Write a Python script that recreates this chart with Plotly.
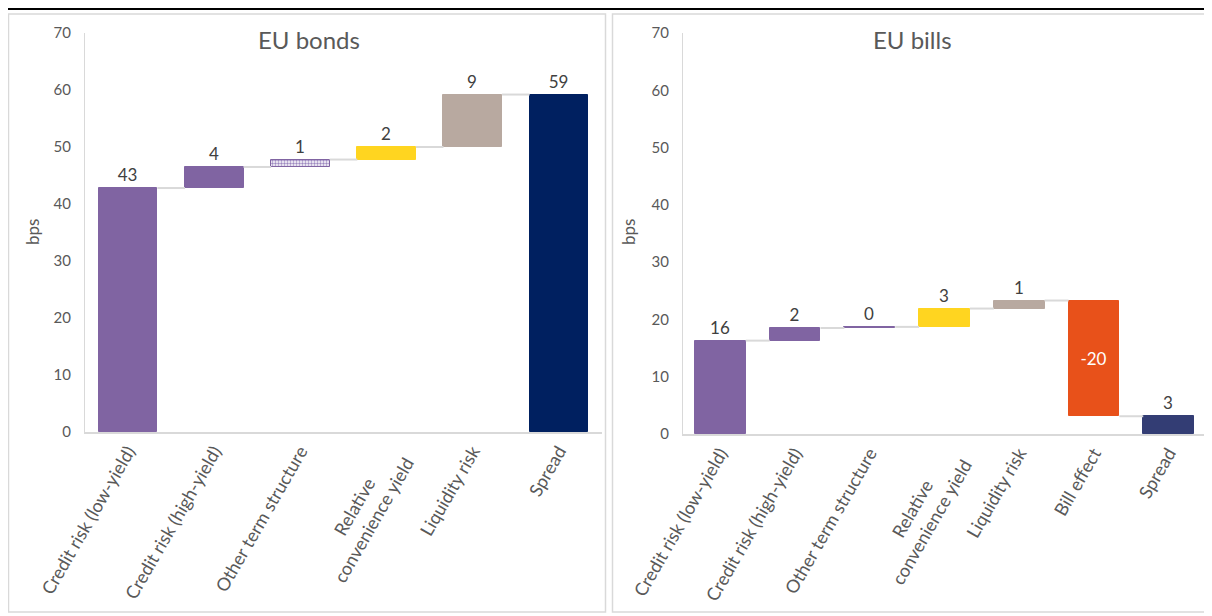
import plotly.graph_objects as go

# ---------------- data ----------------
NB = "\u00a0" * 8  # pads the short first line so it reads centred over the second
bonds_categories = ["Credit risk (low-yield)", "Credit risk (high-yield)", "Other term structure",
                    "Relative" + NB + "<br>convenience yield", "Liquidity risk", "Spread"]
bonds_values = [42.8, 3.7, 1.3, 2.2, 9.2, 59.2]
bonds_kinds = ["relative", "relative", "relative", "relative", "relative", "total"]
bonds_labels = ["43", "4", "1", "2", "9", "59"]
bonds_colors = ["#8064A2", "#8064A2", "#9C88C0", "#FFD520", "#B8A9A0", "#002060"]
bonds_patterns = ["", "", ".", "", "", ""]

bills_categories = ["Credit risk (low-yield)", "Credit risk (high-yield)", "Other term structure",
                    "Relative" + NB + "<br>convenience yield", "Liquidity risk", "Bill effect", "Spread"]
bills_values = [16.3, 2.2, 0.2, 3.2, 1.4, -20.2, 3.1]
bills_kinds = ["relative", "relative", "relative", "relative", "relative", "relative", "total"]
bills_labels = ["16", "2", "0", "3", "1", "-20", "3"]
bills_colors = ["#8064A2", "#8064A2", "#8064A2", "#FFD520", "#B8A9A0", "#E8511A", "#333D74"]
bills_patterns = ["", "", "", "", "", "", ""]

y_ticks = [0, 10, 20, 30, 40, 50, 60, 70]

FONT = "Lato"
GREY = "#595959"
BAR_W = 0.68

# the page adds an 8px body margin; figure coordinates are reference pixels minus 8
OFF = 8
W, H = 1212 - OFF, 616 - OFF


def px_x(v):
    return (v - OFF) / W


def px_y(v):
    return 1 - (v - OFF) / H


fig = go.Figure()


def add_waterfall(cats, vals, kinds, labels, colors, patterns, xa, ya):
    bases, heights, ends = [], [], []
    cum = 0.0
    for v, k in zip(vals, kinds):
        if k == "total":
            bases.append(0.0)
            heights.append(v)
            cum = v
        else:
            bases.append(cum)
            heights.append(v)
            cum = cum + v
        ends.append(cum)
    xs = list(range(len(cats)))
    textpos = ["inside" if h < 0 else "outside" for h in heights]
    textcol = ["white" if h < 0 else "#404040" for h in heights]
    line_cols = ["#8064A2" if p else c for p, c in zip(patterns, colors)]
    fig.add_trace(go.Bar(
        x=xs, y=heights, base=bases, width=BAR_W,
        marker=dict(color=colors, line=dict(color=line_cols, width=1),
                    pattern=dict(shape=patterns, fgcolor="#E4DCEE", size=3, solidity=0.5)),
        text=labels, textposition=textpos, insidetextanchor="middle",
        textfont=dict(family=FONT, size=17, color=textcol),
        outsidetextfont=dict(family=FONT, size=17, color="#404040"),
        cliponaxis=False, showlegend=False, xaxis=xa, yaxis=ya, hoverinfo="skip"))
    # connectors
    cx, cy = [], []
    for i in range(len(cats) - 1):
        cx += [i + BAR_W / 2, i + 1 - BAR_W / 2, None]
        cy += [ends[i], ends[i], None]
    fig.add_trace(go.Scatter(x=cx, y=cy, mode="lines", line=dict(color="#D9D9D9", width=2),
                             showlegend=False, xaxis=xa, yaxis=ya, hoverinfo="skip"))


add_waterfall(bonds_categories, bonds_values, bonds_kinds, bonds_labels, bonds_colors, bonds_patterns, "x", "y")
add_waterfall(bills_categories, bills_values, bills_kinds, bills_labels, bills_colors, bills_patterns, "x2", "y2")

axis_common = dict(showgrid=False, zeroline=False, showline=True, linecolor="#D9D9D9",
                   ticks="", automargin=False, tickfont=dict(family=FONT, size=18, color=GREY))

fig.update_layout(
    template="none",
    width=W, height=H, margin=dict(l=0, r=0, t=0, b=0, pad=0),
    paper_bgcolor="white", plot_bgcolor="white", bargap=0,
    xaxis=dict(axis_common, domain=[px_x(85), px_x(602)], range=[-0.5, len(bonds_categories) - 0.5],
               tickvals=list(range(len(bonds_categories))), ticktext=bonds_categories,
               tickangle=-60, anchor="y", linewidth=1.5),
    yaxis=dict(axis_common, domain=[px_y(432), px_y(33)], range=[0, 70], tickvals=y_ticks,
               anchor="x", linewidth=1, ticklabelstandoff=10,
               tickfont=dict(family=FONT, size=15, color=GREY)),
    xaxis2=dict(axis_common, domain=[px_x(683), px_x(1206)], range=[-0.5, len(bills_categories) - 0.5],
                tickvals=list(range(len(bills_categories))), ticktext=bills_categories,
                tickangle=-60, anchor="y2", linewidth=1.5),
    yaxis2=dict(axis_common, domain=[px_y(434), px_y(33)], range=[0, 70], tickvals=y_ticks,
                anchor="x2", linewidth=1, ticklabelstandoff=10,
                tickfont=dict(family=FONT, size=15, color=GREY)),
)

# titles and axis titles
for txt, x in [("EU bonds", 309), ("EU bills", 912)]:
    fig.add_annotation(text=txt, x=px_x(x), y=px_y(40), xref="paper", yref="paper",
                       showarrow=False, xanchor="center", yanchor="middle",
                       font=dict(family=FONT, size=24, color=GREY))
for x in [32, 628]:
    fig.add_annotation(text="bps", x=px_x(x), y=px_y(232), xref="paper", yref="paper",
                       showarrow=False, textangle=-90, xanchor="center", yanchor="middle",
                       font=dict(family=FONT, size=17, color=GREY))

# panel frames and top rule
fig.add_shape(type="line", xref="paper", yref="paper", x0=0, x1=1, y0=px_y(9), y1=px_y(9),
              line=dict(color="black", width=2))
for x0, x1 in [(8.5, 605.5), (612.5, 1211)]:
    fig.add_shape(type="rect", xref="paper", yref="paper", x0=px_x(x0), x1=px_x(x1),
                  y0=px_y(612), y1=px_y(14), line=dict(color="#D9D9D9", width=1.5), layer="below")

fig.write_html("out.html")
